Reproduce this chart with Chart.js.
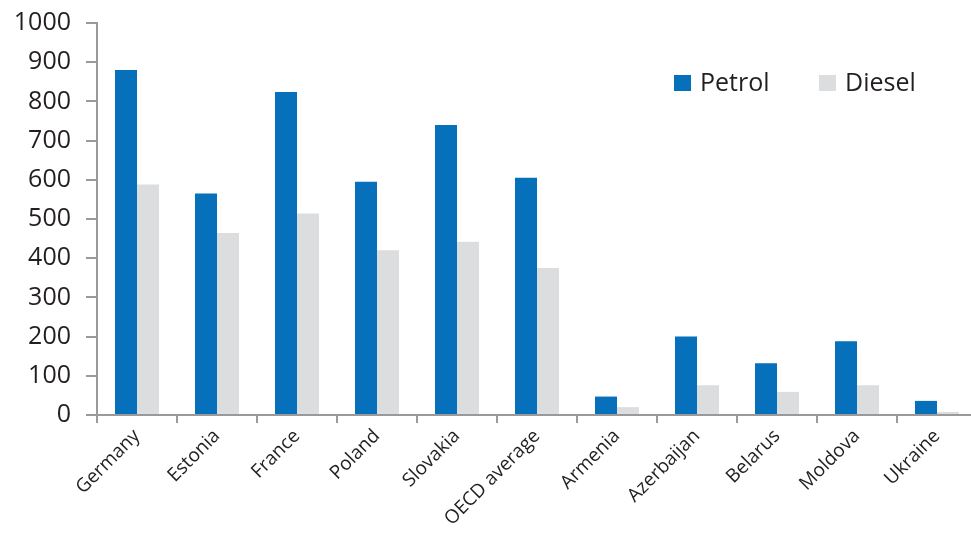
<!DOCTYPE html>
<html lang="en">
  <head>
    <meta charset="UTF-8" />
    <title>Petrol and diesel</title>
    <script src="https://cdn.jsdelivr.net/npm/chart.js"></script>
    <style>
      html, body { margin: 0; padding: 0; background: #fff; overflow: hidden; }
      /* подняли холст, чтобы 1000 попало на y≈21 */
      #wrap { width: 980px; height: 546px; position: relative; margin-top: -7px; }
    </style>
  </head>
  <body>
    <div id="wrap"><canvas id="chart"></canvas></div>

    <script>
      /* данные */
      const countries = ["Germany", "Estonia", "France", "Poland", "Slovakia", "OECD average",
                         "Armenia", "Azerbaijan", "Belarus", "Moldova", "Ukraine"];
      const petrol = [880, 565, 824, 595, 740, 605, 47, 200, 132, 188, 36];
      const diesel = [588, 464, 514, 420, 442, 375, 20, 76, 59, 76, 8];
      const yTicks = [0, 100, 200, 300, 400, 500, 600, 700, 800, 900, 1000];

      const FONT = "'Open Sans', Lato, sans-serif";
      const AXIS = "#9a9a9c";
      const TEXT = "#231f20";

      /* легенда внутри графика */
      const innerLegend = {
        id: "innerLegend",
        afterDraw(chart) {
          const ctx = chart.ctx;
          let x = chart.chartArea.right - 303;
          const y = 90;
          ctx.save();
          ctx.font = "25px " + FONT;
          ctx.textBaseline = "middle";
          chart.data.datasets.forEach(ds => {
            ctx.fillStyle = ds.backgroundColor;
            ctx.fillRect(x, y - 8, 17, 16);
            ctx.fillStyle = TEXT;
            ctx.fillText(ds.label, x + 26, y + 1);
            x += 145;
          });
          ctx.restore();
        }
      };

      new Chart(document.getElementById("chart"), {
        type: "bar",
        data: {
          labels: countries,
          datasets: [
            { label: "Petrol", data: petrol, backgroundColor: "#0670ba" },
            { label: "Diesel", data: diesel, backgroundColor: "#dcdddf" }
          ]
        },
        options: {
          responsive: true,
          maintainAspectRatio: false,
          animation: false,
          categoryPercentage: 0.55,
          barPercentage: 1,
          layout: { padding: { top: 0, right: 3, left: 0, bottom: 0 } },
          plugins: {
            legend: { display: false },
            tooltip: { enabled: false }
          },
          scales: {
            x: {
              grid: { drawOnChartArea: false, tickLength: 8, color: AXIS, lineWidth: 2, offset: true },
              border: { color: AXIS, width: 2 },
              ticks: {
                color: TEXT,
                font: { family: FONT, size: 19 },
                minRotation: 45,
                maxRotation: 45,
                autoSkip: false,
                padding: 2
              },
              afterFit(s) { s.height = 124; }
            },
            y: {
              min: 0,
              max: 1000,
              afterBuildTicks(s) { s.ticks = yTicks.map(v => ({ value: v })); },
              grid: { drawOnChartArea: false, tickLength: 11, color: AXIS, lineWidth: 2 },
              border: { color: AXIS, width: 2 },
              ticks: {
                color: TEXT,
                font: { family: FONT, size: 25 },
                padding: 15,
                callback: v => String(v)
              },
              afterFit(s) { s.width = 97; }
            }
          }
        },
        plugins: [innerLegend]
      });
    </script>
  </body>
</html>
